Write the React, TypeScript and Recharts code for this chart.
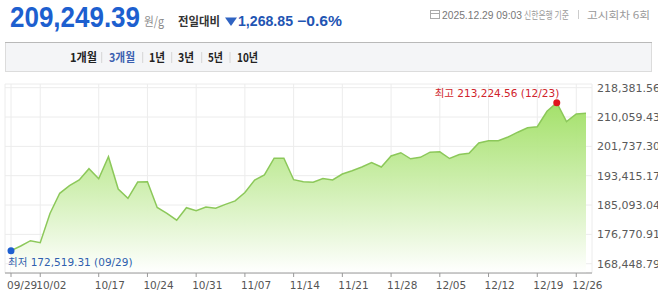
import React from "react";
import {
  AreaChart,
  Area,
  XAxis,
  YAxis,
  CartesianGrid,
} from "recharts";

// 3개월 금 시세 (원/g), 영업일 기준
const dates = [
  "09/29", "09/30", "10/01", "10/02", "10/10", "10/13", "10/14", "10/15", "10/16", "10/17",
  "10/20", "10/21", "10/22", "10/23", "10/24", "10/27", "10/28", "10/29", "10/30", "10/31",
  "11/03", "11/04", "11/05", "11/06", "11/07", "11/10", "11/11", "11/12", "11/13", "11/14",
  "11/17", "11/18", "11/19", "11/20", "11/21", "11/24", "11/25", "11/26", "11/27", "11/28",
  "12/01", "12/02", "12/03", "12/04", "12/05", "12/08", "12/09", "12/10", "12/11", "12/12",
  "12/15", "12/16", "12/17", "12/18", "12/19", "12/22", "12/23", "12/24", "12/26", "12/29",
];

const prices = [
  172139, 173472, 174976, 174408, 182693, 188423, 190579, 192196, 195402, 192565,
  198806, 189643, 187005, 191629, 191714, 184395, 182749, 180792, 184338, 183487,
  184537, 184196, 185274, 186267, 188650, 192196, 193615, 198381, 198352, 192282,
  191714, 191572, 192622, 192196, 193899, 194835, 195885, 197161, 195885, 199005,
  199941, 198210, 198636, 200083, 200197, 198296, 199431, 199771, 202693, 203346,
  203346, 204396, 205757, 207034, 207318, 211687, 214126, 208736, 210921, 211119,
];

const tickDates = [
  "09/29", "10/02", "10/17", "10/24", "10/31", "11/07", "11/14",
  "11/21", "11/28", "12/05", "12/12", "12/19", "12/26",
];

const yTicks = [168448.79, 176770.91, 185093.04, 193415.17, 201737.3, 210059.43, 218381.56];

const minLabel = "최저 172,519.31 (09/29)";
const maxLabel = "최고 213,224.56 (12/23)";

const tabs = ["1개월", "3개월", "1년", "3년", "5년", "10년"];

const data = prices.map((v, i) => ({ i, date: dates[i], v }));
const minIdx = prices.indexOf(Math.min(...prices));
const maxIdx = prices.indexOf(Math.max(...prices));
const xTicks = tickDates.map((d) => dates.indexOf(d));

const fmt = (n: number) =>
  n.toLocaleString("en-US", { minimumFractionDigits: 2, maximumFractionDigits: 2 });

const AXIS_FONT = '"DejaVu Sans", "Noto Sans CJK KR", sans-serif';
const KR_FONT = '"Noto Sans CJK KR", "Liberation Sans", sans-serif';

// eslint-disable-next-line @typescript-eslint/no-explicit-any
const XTick = (props: any) => {
  const { x, y, payload } = props;
  return (
    <text x={x - 4} y={y + 9.5} fontSize={10.5} fill="#555" fontFamily={AXIS_FONT}>
      {dates[payload.value]}
    </text>
  );
};

// eslint-disable-next-line @typescript-eslint/no-explicit-any
const MarkDot = (p: any) => {
  if (p.index === minIdx) {
    return (
      <g key="min">
        <circle cx={p.cx} cy={p.cy} r={3.5} fill="#1d5fd0" />
        <text x={p.cx - 3} y={p.cy + 15} fontSize={10.5} fill="#2f5fae" fontFamily={AXIS_FONT}>
          {minLabel}
        </text>
      </g>
    );
  }
  if (p.index === maxIdx) {
    return (
      <g key="max">
        <circle cx={p.cx} cy={p.cy} r={3.5} fill="#e0161e" />
        <text
          x={p.cx + 2.5}
          y={p.cy - 5.5}
          fontSize={10.5}
          fill="#d0242b"
          textAnchor="end"
          fontFamily={AXIS_FONT}
        >
          {maxLabel}
        </text>
      </g>
    );
  }
  return <g key={`d${p.index}`} />;
};

const tabX = [
  { x: 70, w: 27 },
  { x: 109, w: 26 },
  { x: 149, w: 16 },
  { x: 178, w: 16 },
  { x: 208, w: 15 },
  { x: 237, w: 21 },
];
const sepX = [101.7, 142.7, 171.7, 201.7, 230];

function Header() {
  return (
    <svg width={658} height={80} style={{ position: "absolute", left: 0, top: 0 }}>
      <text
        x={10}
        y={27}
        fontSize={30}
        fontWeight={700}
        fontFamily='"Liberation Sans", Arial, sans-serif'
        fill="#1d5fcf"
        textLength={130}
        lengthAdjust="spacingAndGlyphs"
      >
        209,249.39
      </text>
      <text x={144} y={25.5} fontSize={12.5} fill="#8c8c8c" fontFamily={KR_FONT} textLength={20} lengthAdjust="spacingAndGlyphs">
        원/g
      </text>
      <text x={178} y={25.5} fontSize={12} fontWeight={700} fill="#333" fontFamily={KR_FONT} textLength={42} lengthAdjust="spacingAndGlyphs">
        전일대비
      </text>
      <polygon points="225,17.5 237,17.5 231,26" fill="#2f63c2" />
      <text
        x={238}
        y={26}
        fontSize={14}
        fontWeight={700}
        fill="#1f55b3"
        fontFamily='"Liberation Sans", Arial, sans-serif'
        textLength={55}
        lengthAdjust="spacingAndGlyphs"
      >
        1,268.85
      </text>
      <text
        x={297}
        y={26}
        fontSize={14}
        fontWeight={700}
        fill="#1f55b3"
        fontFamily='"Liberation Sans", Arial, sans-serif'
        textLength={45}
        lengthAdjust="spacingAndGlyphs"
      >
        −0.6%
      </text>
      {/* 작은 달력 아이콘 */}
      <g fill="none" stroke="#aaa" strokeWidth={1}>
        <rect x={430.5} y={10.5} width={9} height={8} />
        <line x1={430.5} y1={13.5} x2={439.5} y2={13.5} />
      </g>
      <text x={442} y={18.5} fontSize={10.5} fill="#777" fontFamily='"Liberation Sans", sans-serif' textLength={80} lengthAdjust="spacingAndGlyphs">
        2025.12.29 09:03
      </text>
      <text x={524} y={18.5} fontSize={10} fill="#9a9a9a" fontFamily={KR_FONT} textLength={45} lengthAdjust="spacingAndGlyphs">
        신한은행 기준
      </text>
      <line x1={578.5} y1={10} x2={578.5} y2={19} stroke="#ccc" />
      <text x={587} y={18.5} fontSize={10} fill="#9a9a9a" fontFamily={KR_FONT} textLength={63} lengthAdjust="spacingAndGlyphs">
        고시회차 6회
      </text>

      <rect x={5.5} y={42.5} width={646} height={29} fill="#f4f5f7" stroke="#dcdcdc" />
      <line x1={5} y1={42.5} x2={652} y2={42.5} stroke="#b9b9b9" />
      {tabs.map((t, k) => (
        <text
          key={t}
          x={tabX[k].x}
          y={62}
          fontSize={12}
          fontWeight={700}
          fill={k === 1 ? "#3b5fb0" : "#222"}
          fontFamily={KR_FONT}
          textLength={tabX[k].w}
          lengthAdjust="spacingAndGlyphs"
        >
          {t}
        </text>
      ))}
      {sepX.map((sx) => (
        <line key={sx} x1={sx} y1={52} x2={sx} y2={63} stroke="#d6d6d6" />
      ))}
    </svg>
  );
}

export default function App() {
  return (
    <div
      style={{
        width: 658,
        height: 297,
        position: "relative",
        background: "#fff",
        overflow: "hidden",
      }}
    >
      <style>{"body{margin:0}"}</style>
      <Header />
      <div style={{ position: "absolute", left: 0, top: 80 }}>
        <AreaChart
          width={658}
          height={217}
          data={data}
          margin={{ top: 4, right: 0, bottom: 0, left: 5 }}
        >
          <defs>
            <linearGradient id="goldFill" x1="0" y1="0" x2="0" y2="1">
              <stop offset="0%" stopColor="#9fdf62" stopOpacity={0.95} />
              <stop offset="100%" stopColor="#ffffff" stopOpacity={1} />
            </linearGradient>
          </defs>
          <CartesianGrid stroke="#ececec" />
          <XAxis
            dataKey="i"
            type="number"
            domain={[0, dates.length - 1]}
            padding={{ left: 6, right: 6 }}
            ticks={xTicks}
            interval={0}
            height={24}
            tick={<XTick />}
            tickSize={4}
            tickLine={{ stroke: "#999" }}
            axisLine={{ stroke: "#999" }}
          />
          <YAxis
            orientation="right"
            width={66}
            domain={[165812, 219431]}
            ticks={yTicks}
            tickFormatter={fmt}
            axisLine={false}
            tickLine={false}
            tickSize={0}
            tickMargin={5}
            tick={{ fontSize: 11, fill: "#5a5a5a", fontFamily: AXIS_FONT }}
          />
          <Area
            type="linear"
            dataKey="v"
            stroke="#8cc85a"
            strokeWidth={1.5}
            fill="url(#goldFill)"
            fillOpacity={1}
            dot={MarkDot}
            activeDot={false}
            isAnimationActive={false}
          />
        </AreaChart>
      </div>
    </div>
  );
}
